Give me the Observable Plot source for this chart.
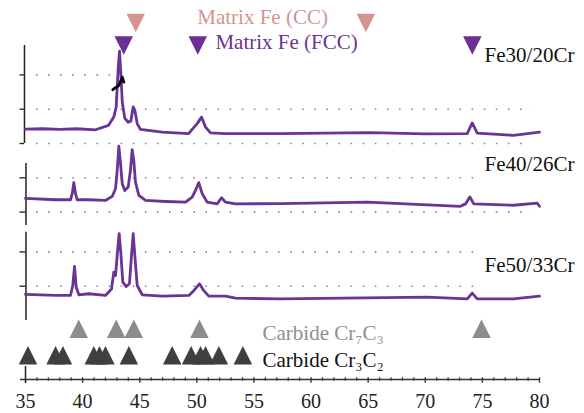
<!DOCTYPE html>
<html><head><meta charset="utf-8">
<script src="https://cdn.jsdelivr.net/npm/d3@7"></script>
<script src="https://cdn.jsdelivr.net/npm/@observablehq/plot@0.6"></script>
<style>body{margin:0;background:#fff} svg{display:block}</style>
</head><body><div id="chart"></div>
<script>
// ---- data ----
const samples = ["Fe30/20Cr", "Fe40/26Cr", "Fe50/33Cr"];
const offsets = [6.88, 4.88, 2.72];

const twoTheta1 = [35.0,36.5,38.0,39.5,41.13,42.27,42.73,42.94,43.12,43.23,43.34,43.47,43.69,43.99,44.22,44.43,44.57,44.78,45.07,46.97,49.27,50.03,50.41,50.76,51.2,52.51,57.33,65.2,70.0,73.67,74.11,74.55,77.72,80.0];
const int1      = [0.42,0.43,0.41,0.43,0.40,0.53,0.77,1.07,2.21,2.69,2.10,1.21,0.74,0.62,0.65,1.07,0.97,0.58,0.41,0.33,0.29,0.58,0.77,0.48,0.31,0.29,0.29,0.32,0.28,0.29,0.60,0.30,0.24,0.33];

const twoTheta2 = [35.0,37.63,38.94,39.09,39.23,39.38,39.53,40.54,42.0,42.59,42.88,43.03,43.17,43.32,43.47,43.69,43.99,44.19,44.34,44.48,44.63,44.92,45.51,47.26,49.01,49.59,49.88,50.17,50.47,50.91,51.78,52.16,52.51,53.39,57.33,64.92,73.08,73.52,73.90,74.25,77.72,79.8,80.0];
const int2      = [0.40,0.36,0.36,0.54,0.86,0.54,0.36,0.36,0.34,0.46,0.68,1.22,1.92,1.41,0.83,0.63,0.73,1.22,1.82,1.51,0.87,0.49,0.34,0.31,0.29,0.44,0.63,0.86,0.54,0.29,0.24,0.42,0.29,0.24,0.25,0.29,0.17,0.24,0.44,0.24,0.20,0.26,0.17];

const twoTheta3 = [35.0,37.63,38.94,39.14,39.29,39.44,39.67,40.54,42.0,42.53,42.73,42.88,43.05,43.2,43.34,43.52,43.82,44.1,44.28,44.43,44.57,44.78,45.22,46.97,49.3,49.73,50.23,50.61,51.05,52.51,53.39,57.33,70.17,73.67,74.11,74.55,77.72,80.0];
const int3      = [-0.24,-0.27,-0.27,0.02,0.58,-0.03,-0.25,-0.22,-0.27,-0.08,0.41,0.31,0.99,1.53,0.99,0.12,-0.01,0.07,0.90,1.53,0.90,0.02,-0.25,-0.29,-0.27,-0.13,0.07,-0.13,-0.29,-0.29,-0.35,-0.37,-0.32,-0.37,-0.20,-0.37,-0.37,-0.29];

const ccPeaks    = [44.65, 64.8];
const fccPeaks   = [43.6, 50.08, 74.12];
const cr7c3Peaks = [39.66, 42.94, 44.48, 50.23, 74.92];
const cr3c2Peaks = [35.22, 37.63, 38.28, 40.98, 41.48, 42.0, 44.05, 47.84, 49.5, 50.32, 50.76, 51.93, 54.03];

const xTicks = [35, 40, 45, 50, 55, 60, 65, 70, 75, 80];
const minorTicks = d3.range(36, 80).filter(d => d % 5 !== 0);

const strayTheta = [42.64, 42.85, 43.17, 43.47, 43.61];
const strayInt   = [8.45, 8.50, 8.57, 8.81, 8.67];

// ---- layout ----
const rowY = {cc: 10.39, fcc: 9.74, cr7: 1.48, cr3: 0.71};
const purple = "#6a3396", pink = "#d4948f", grayTri = "#8c8c8c", darkTri = "#3f3f3f";
const font = "Liberation Serif";

const spectra = [];
[[twoTheta1, int1], [twoTheta2, int2], [twoTheta3, int3]].forEach(([t, v], i) => {
  t.forEach((x, j) => spectra.push({sample: samples[i], t: x, v: offsets[i] + v[j]}));
});
const stray = strayTheta.map((t, i) => ({t, v: strayInt[i]}));

const grid = [
  {y: offsets[0], x2: 79.4}, {y: offsets[0] + 1, x2: 79.4}, {y: offsets[0] + 2, x2: 42.45},
  {y: offsets[1], x2: 79.4}, {y: offsets[1] + 1, x2: 75.0},
  {y: offsets[2], x2: 75.0}, {y: offsets[2] + 1, x2: 75.0}
];
const panelAxes = [
  {x: 34.91, y1: offsets[0], y2: offsets[0] + 2.86},
  {x: 35.04, y1: offsets[1] - 0.39, y2: offsets[1] + 1.42},
  {x: 35.04, y1: offsets[2] - 1.0, y2: offsets[2] + 1.57}
];
const panelTicks = [
  {y: offsets[0], x2: 34.91}, {y: offsets[0] + 1, x2: 34.91}, {y: offsets[0] + 2, x2: 34.91},
  {y: offsets[1], x2: 35.04}, {y: offsets[1] + 1, x2: 35.04},
  {y: offsets[2], x2: 35.04}, {y: offsets[2] + 1, x2: 35.04}
];

const W = 18.5, H = 18.5;
const triUp = {draw(ctx) { ctx.moveTo(0, -H / 2); ctx.lineTo(W / 2, H / 2); ctx.lineTo(-W / 2, H / 2); ctx.closePath(); }};
const triDown = {draw(ctx) { ctx.moveTo(0, H / 2); ctx.lineTo(W / 2, -H / 2); ctx.lineTo(-W / 2, -H / 2); ctx.closePath(); }};

const labels = [
  {t: 50.04, v: 10.37, text: "Matrix Fe (CC)", c: pink},
  {t: 51.63, v: 9.64, text: "Matrix Fe (FCC)", c: purple},
  {t: 75.19, v: 9.27, text: samples[0], c: "#111"},
  {t: 75.19, v: 6.09, text: samples[1], c: "#111"},
  {t: 75.19, v: 3.13, text: samples[2], c: "#111"},
  {t: 55.75, v: 1.157, text: "Carbide Cr₇C₃", c: "#8f8f8f"},
  {t: 55.75, v: 0.379, text: "Carbide Cr₃C₂", c: "#111"}
];

const chart = Plot.plot({
  width: 584, height: 413,
  marginTop: 0, marginLeft: 25, marginRight: 45, marginBottom: 34,
  style: {fontFamily: font, background: "#fff"},
  x: {domain: [35, 80], range: [25, 539], axis: null},
  y: {domain: [0, 11], range: [379, 1.7], axis: null},
  marks: [
    Plot.ruleY(grid, {y: "y", x1: 35.96, x2: "x2", stroke: "#8a8a8a", strokeWidth: 1.6, strokeDasharray: "1.6,10.5"}),
    Plot.ruleX(panelAxes, {x: "x", y1: "y1", y2: "y2", stroke: "#222", strokeWidth: 1.5}),
    Plot.ruleY(panelTicks, {y: "y", x1: 34.52, x2: "x2", stroke: "#222", strokeWidth: 1.3}),
    Plot.line(spectra, {x: "t", y: "v", z: "sample", stroke: purple, strokeWidth: 2.8, strokeLinejoin: "round"}),
    Plot.line(stray, {x: "t", y: "v", stroke: "#000", strokeWidth: 2.8, strokeLinecap: "round"}),
    Plot.ruleY([0], {x1: 34.56, x2: 80, stroke: "#333", strokeWidth: 1.5}),
    Plot.ruleX(minorTicks, {x: d => d, y1: -0.05, y2: 0.05, stroke: "#333", strokeWidth: 1.2}),
    Plot.ruleX(xTicks.slice(1), {x: d => d, y1: -0.11, y2: 0.05, stroke: "#333", strokeWidth: 1.4}),
    Plot.ruleX([35], {x: d => d, y1: -0.12, y2: 0.38, stroke: "#222", strokeWidth: 1.5}),
    Plot.axisX(xTicks, {anchor: "bottom", tickSize: 0, tickPadding: 14, fontSize: 20, fill: "#222", label: null, fontFamily: font}),
    Plot.dot(ccPeaks, {x: d => d, y: () => rowY.cc, symbol: triDown, fill: pink, stroke: "none"}),
    Plot.dot(fccPeaks, {x: d => d, y: () => rowY.fcc, symbol: triDown, fill: "#6b2f95", stroke: "none"}),
    Plot.dot(cr7c3Peaks, {x: d => d, y: () => rowY.cr7, symbol: triUp, fill: grayTri, stroke: "none"}),
    Plot.dot(cr3c2Peaks, {x: d => d, y: () => rowY.cr3, symbol: triUp, fill: darkTri, stroke: "none"}),
    Plot.text(labels, {x: "t", y: "v", text: "text", fill: "c", textAnchor: "start", lineAnchor: "bottom", fontSize: 21, fontFamily: font})
  ]
});
document.getElementById("chart").appendChild(chart);
</script>
</body></html>
